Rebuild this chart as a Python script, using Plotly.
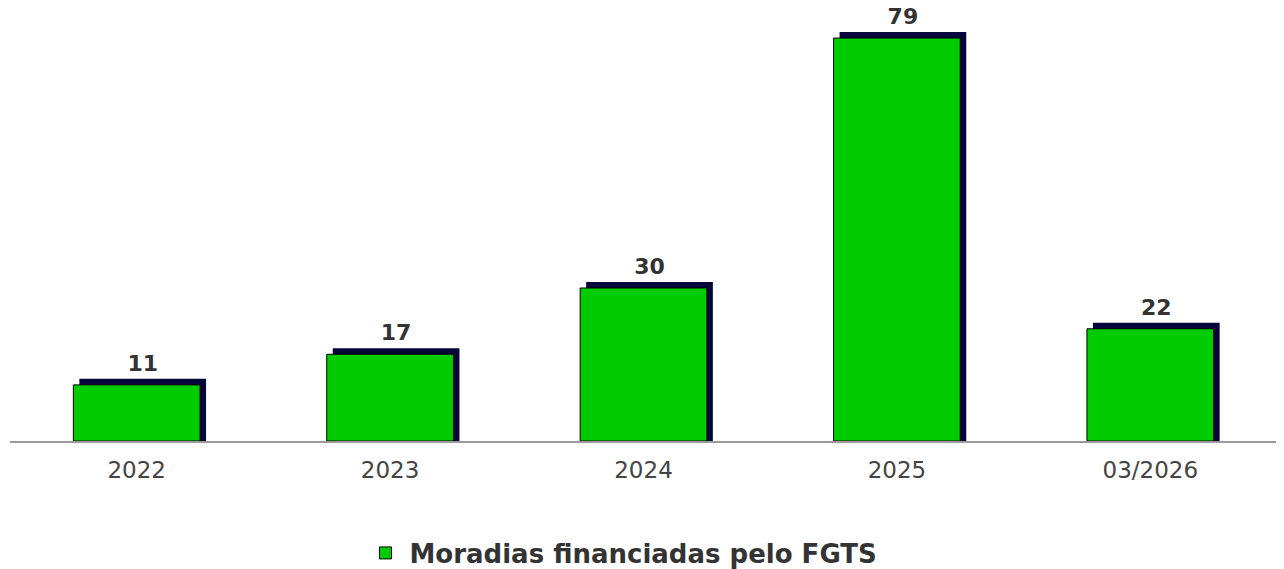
import plotly.graph_objects as go

# Data
CATEGORIES = ["2022", "2023", "2024", "2025", "03/2026"]
VALUES = [11, 17, 30, 79, 22]
SERIES_NAME = "Moradias financiadas pelo FGTS"

Y_MAX = 84.5
# 3D shadow offset (in axis units) -> about 6 px right and up
DX = 0.0237
DY = 1.18

fig = go.Figure()

# dark shadow bars on the (shifted) base axes, so they sit under the green ones
fig.add_trace(go.Bar(
    x=CATEGORIES,
    y=[v + DY for v in VALUES],
    base=[-DY] * len(VALUES),
    width=0.5,
    marker=dict(color="#06063d", line=dict(width=0)),
    text=[str(v) for v in VALUES],
    textposition="outside",
    textfont=dict(family="DejaVu Sans", size=22, color="#333333", weight="bold"),
    cliponaxis=False,
    showlegend=False,
    hoverinfo="skip",
))

# main green bars on the overlaid axes
fig.add_trace(go.Bar(
    x=CATEGORIES,
    y=VALUES,
    name=SERIES_NAME,
    xaxis="x2",
    yaxis="y2",
    width=0.5,
    marker=dict(color="#00cc00", line=dict(color="#000000", width=1)),
))

# page body adds an 8px margin, so the figure is a bit smaller than the window
fig.update_layout(
    width=1276,
    height=561,
    margin=dict(t=2, b=128, l=2, r=7, autoexpand=False),
    plot_bgcolor="white",
    paper_bgcolor="white",
    font=dict(family="DejaVu Sans", color="#444444"),
    xaxis=dict(range=[-0.5 - DX, 4.5 - DX], visible=False),
    yaxis=dict(range=[0 - DY, Y_MAX - DY], visible=False),
    xaxis2=dict(
        range=[-0.5, 4.5],
        overlaying="x",
        side="bottom",
        showgrid=False,
        showline=True,
        linecolor="#999999",
        linewidth=1.5,
        ticks="",
        ticklabelstandoff=8,
        tickfont=dict(size=23, color="#444444"),
        zeroline=False,
        automargin=False,
    ),
    yaxis2=dict(range=[0, Y_MAX], overlaying="y", visible=False),
    legend=dict(
        orientation="h",
        x=0.483,
        xanchor="center",
        yref="container",
        y=0.0285,
        yanchor="middle",
        itemwidth=38,
        font=dict(size=26, color="#333333", family="DejaVu Sans", weight="bold"),
    ),
    showlegend=True,
)

fig.write_html("out.html")
